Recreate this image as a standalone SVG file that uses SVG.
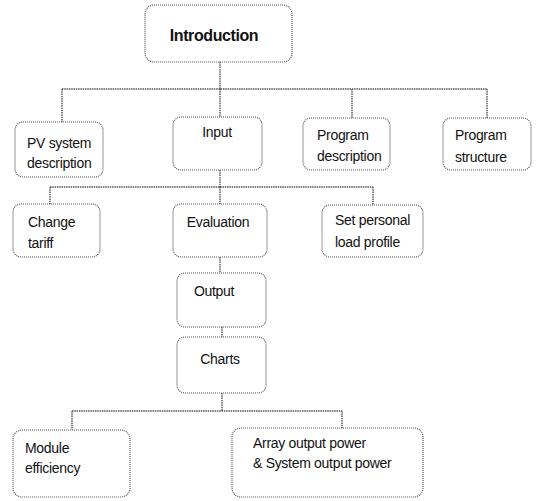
<svg xmlns="http://www.w3.org/2000/svg" width="536" height="501" viewBox="0 0 536 501">
<style>
.box{fill:#fff;stroke:#555;stroke-width:1.2;stroke-dasharray:1 1}
.con{fill:none;stroke:#555;stroke-width:1.4;stroke-dasharray:1.5 0.8}
text{font-family:"Liberation Sans",Arial,sans-serif;font-size:14px;fill:#111;letter-spacing:-0.3px}
.title{font-size:16px;font-weight:bold;letter-spacing:-0.4px}
.c{text-anchor:middle}
</style>
<rect width="536" height="501" fill="#fff"/>
<g id="connectors">
<path class="con" d="M220,62V89M62,89H487M62,89V122M220,89V117M352,89V118M487,89V118"/>
<path class="con" d="M220,170V187M50,187H373M50,187V204M220,187V204M373,187V205"/>
<path class="con" d="M220,257V273M222,327V337M222,393V411M72,411H342M72,411V430M342,411V428"/>
</g>
<g id="introduction"><rect class="box" x="145" y="5" width="147" height="57" rx="9"/><text class="title c" x="214" y="41">Introduction</text></g>
<g id="pv-system"><rect class="box" x="15" y="122" width="88" height="55" rx="8"/><text x="27" y="148">PV system</text><text x="27" y="168">description</text></g>
<g id="input"><rect class="box" x="173" y="117" width="89" height="53" rx="8"/><text class="c" x="217" y="137">Input</text></g>
<g id="program-description"><rect class="box" x="303" y="118" width="87" height="52" rx="8"/><text x="317" y="140">Program</text><text x="317" y="161">description</text></g>
<g id="program-structure"><rect class="box" x="443" y="118" width="88" height="52" rx="8"/><text x="455" y="140">Program</text><text x="455" y="162">structure</text></g>
<g id="change-tariff"><rect class="box" x="13" y="204" width="87" height="53" rx="8"/><text x="28" y="227">Change</text><text x="28" y="248">tariff</text></g>
<g id="evaluation"><rect class="box" x="173" y="204" width="94" height="53" rx="8"/><text class="c" x="218" y="227">Evaluation</text></g>
<g id="set-personal"><rect class="box" x="322" y="205" width="101" height="52" rx="8"/><text x="335" y="225">Set personal</text><text x="335" y="247">load profile</text></g>
<g id="output"><rect class="box" x="177" y="273" width="89" height="54" rx="8"/><text class="c" x="214" y="296">Output</text></g>
<g id="charts"><rect class="box" x="177" y="337" width="89" height="56" rx="8"/><text class="c" x="220" y="364">Charts</text></g>
<g id="module-efficiency"><rect class="box" x="13" y="430" width="117" height="67" rx="9"/><text x="25" y="453">Module</text><text x="25" y="473">efficiency</text></g>
<g id="array-output"><rect class="box" x="232" y="428" width="191" height="69" rx="9"/><text x="253" y="448">Array output power</text><text x="253" y="468">&amp; System output power</text></g>
</svg>
